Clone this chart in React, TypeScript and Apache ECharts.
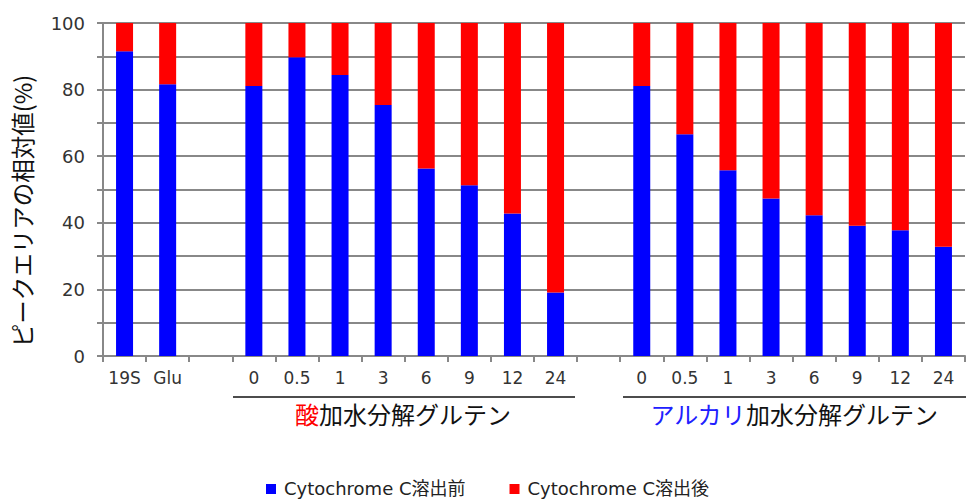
import React, { useEffect, useRef } from "react";
import * as echarts from "echarts";

const categories = ["19S", "Glu", "", "0", "0.5", "1", "3", "6", "9", "12", "24", "", "0", "0.5", "1", "3", "6", "9", "12", "24"];
const beforeValues = [91.5, 81.6, null, 81.1, 89.7, 84.4, 75.4, 56.3, 51.3, 42.8, 19.1, null, 81.1, 66.6, 55.8, 47.3, 42.3, 39.1, 37.8, 32.8];
const afterValues = [8.5, 18.4, null, 18.9, 10.3, 15.6, 24.6, 43.7, 48.7, 57.2, 80.9, null, 18.9, 33.4, 44.2, 52.7, 57.7, 60.9, 62.2, 67.2];
const seriesNames = ["Cytochrome C溶出前", "Cytochrome C溶出後"];
const yTitle = "ピークエリアの相対値(%)";
const groupAcidColored = "酸";
const groupAlkaliColored = "アルカリ";
const groupSuffix = "加水分解グルテン";

const FONT = "'DejaVu Sans', 'Noto Sans CJK JP', sans-serif";
const CJK = "'Noto Sans CJK JP', 'DejaVu Sans', sans-serif";

export default function App() {
  const ref = useRef<HTMLDivElement>(null);
  useEffect(() => {
    if (!ref.current) return;
    const chart = echarts.init(ref.current, null, { renderer: "svg" });
    const gray = "#888888";
    chart.setOption({
      animation: false,
      grid: { left: 103, right: 1, top: 23, bottom: 148, containLabel: false },
      legend: {
        left: 266,
        top: 480,
        padding: 0,
        itemWidth: 10,
        itemHeight: 10,
        itemGap: 44,
        icon: "rect",
        textStyle: { fontSize: 18, color: "#222", fontFamily: FONT, padding: [0, 0, 0, 3] },
        data: seriesNames,
      },
      xAxis: {
        type: "category",
        data: categories,
        axisLine: { lineStyle: { color: gray, width: 2 } },
        axisTick: { show: true, interval: 0, length: 6, lineStyle: { color: gray, width: 2 } },
        axisLabel: { interval: 0, fontSize: 17, color: "#333", margin: 13, fontFamily: FONT },
        splitLine: { show: false },
      },
      yAxis: {
        type: "value",
        min: 0,
        max: 100,
        interval: 10,
        axisLine: { show: true, lineStyle: { color: gray, width: 2 } },
        axisTick: { show: true, length: 6, lineStyle: { color: gray, width: 2 } },
        axisLabel: {
          fontSize: 18,
          color: "#333",
          margin: 18,
          fontFamily: FONT,
          formatter: (v: number) => (v % 20 === 0 ? String(v) : ""),
        },
        splitLine: { show: true, lineStyle: { color: gray, width: 2 } },
      },
      series: [
        {
          name: seriesNames[0],
          type: "bar",
          stack: "total",
          barWidth: 17,
          itemStyle: { color: "#0000ff" },
          data: beforeValues,
        },
        {
          name: seriesNames[1],
          type: "bar",
          stack: "total",
          barWidth: 17,
          itemStyle: { color: "#ff0000" },
          data: afterValues,
        },
      ],
      graphic: [
        {
          type: "text",
          x: 22,
          y: 211,
          rotation: Math.PI / 2,
          style: {
            text: yTitle,
            fontSize: 23.5,
            fontFamily: CJK,
            fill: "#111",
            align: "center",
            verticalAlign: "middle",
          },
        },
        {
          type: "line",
          shape: { x1: 233, y1: 397, x2: 575, y2: 397 },
          style: { stroke: "#111", lineWidth: 1.5 },
        },
        {
          type: "line",
          shape: { x1: 623, y1: 397, x2: 966, y2: 397 },
          style: { stroke: "#111", lineWidth: 1.5 },
        },
        {
          type: "text",
          x: 403,
          y: 413,
          style: {
            text: "{c|" + groupAcidColored + "}" + groupSuffix,
            fontSize: 24,
            fontFamily: CJK,
            fill: "#111",
            align: "center",
            verticalAlign: "middle",
            rich: { c: { fill: "#ff0000", fontSize: 24, fontFamily: CJK } },
          },
        },
        {
          type: "text",
          x: 794,
          y: 413,
          style: {
            text: "{c|" + groupAlkaliColored + "}" + groupSuffix,
            fontSize: 24,
            fontFamily: CJK,
            fill: "#111",
            align: "center",
            verticalAlign: "middle",
            rich: { c: { fill: "#2020ff", fontSize: 24, fontFamily: CJK } },
          },
        },
      ],
    });
    return () => chart.dispose();
  }, []);
  return (
    <div
      ref={ref}
      style={{ position: "fixed", left: 0, top: 0, width: 966, height: 504, background: "#fff" }}
    />
  );
}
